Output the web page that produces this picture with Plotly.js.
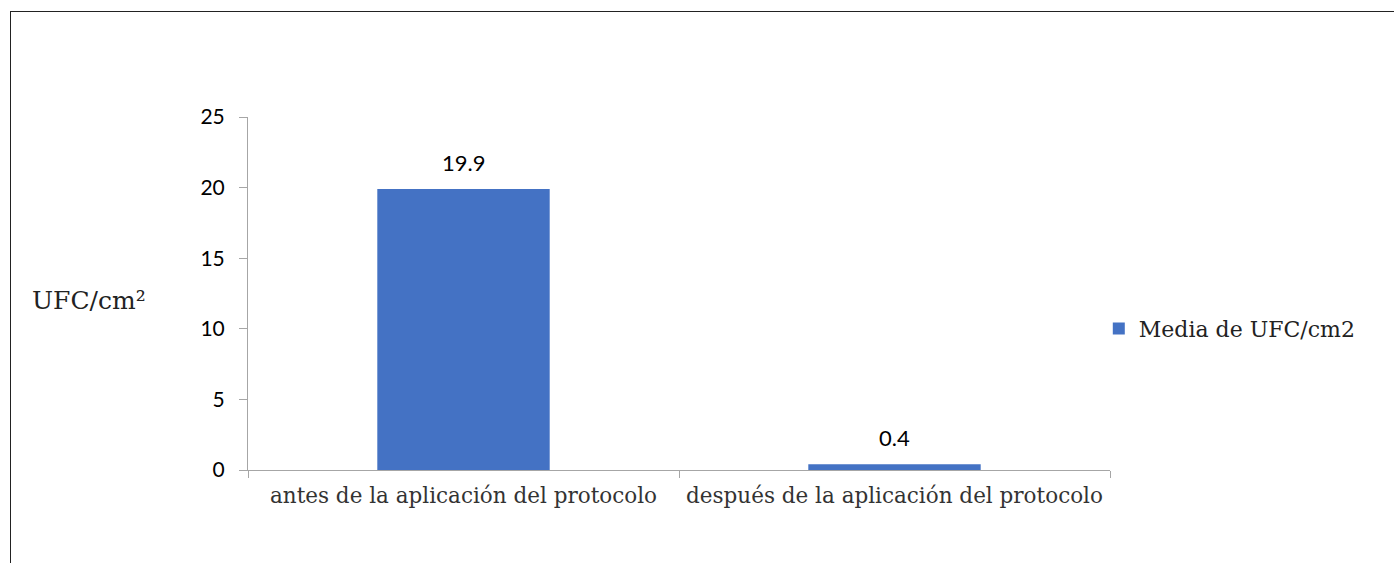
<!DOCTYPE html>
<html><head><meta charset="utf-8">
<script src="https://cdn.plot.ly/plotly-3.0.1.min.js"></script>
<style>
html,body{margin:0;padding:0;background:#fff;}
#chart{width:1394px;height:563px;}
#frame{position:absolute;left:10px;top:11px;width:1400px;height:600px;border-left:1.5px solid #222;border-top:1.5px solid #222;pointer-events:none;}
</style></head>
<body>
<div id="chart"></div>
<div id="frame"></div>
<script>
const categories = ["antes de la aplicación del protocolo", "después de la aplicación del protocolo"];
const values = [19.9, 0.4];
const valueLabels = ["19.9", "0.4"];
const seriesName = "Media de UFC/cm2";
const yTicks = [0, 5, 10, 15, 20, 25];

const serif = 'DejaVu Serif';
const sans = 'Lato';

const trace = {
  type: 'bar', x: categories, y: values, name: seriesName,
  marker: {color: '#4472C4'}, showlegend: true
};
const labelAnns = categories.map((c, i) => ({
  x: c, y: values[i], xref: 'x', yref: 'y', text: valueLabels[i], showarrow: false,
  yanchor: 'bottom', yshift: 11, font: {family: sans, size: 22, color: '#000'}
}));
const layout = {
  width: 1394, height: 563,
  margin: {l: 248, r: 284, t: 117, b: 93},
  paper_bgcolor: '#fff', plot_bgcolor: '#fff',
  bargap: 0.6,
  showlegend: true,
  legend: {x: 0.987, xanchor: 'left', y: 0.4, yanchor: 'middle', font: {family: serif, size: 22, color: '#222'}},
  xaxis: {type: 'category', showline: true, linecolor: '#a6a6a6', linewidth: 1, ticks: 'outside', tickson: 'boundaries', ticklen: 7, tickcolor: '#a6a6a6',
    tickfont: {family: serif, size: 21.5, color: '#333'}, showgrid: false, zeroline: false, ticklabelstandoff: 6},
  yaxis: {range: [0, 25], tickvals: yTicks, showline: true, linecolor: '#a6a6a6', linewidth: 1, ticks: 'outside', ticklen: 8, tickcolor: '#a6a6a6',
    tickfont: {family: sans, size: 21, color: '#000'}, showgrid: false, zeroline: false, ticklabelstandoff: 10},
  annotations: [{text: 'UFC/cm²', xref: 'paper', yref: 'paper', x: -0.253, y: 0.48, xanchor: 'left', yanchor: 'middle', showarrow: false,
    font: {family: serif, size: 25, color: '#222'}}].concat(labelAnns)
};
Plotly.newPlot('chart', [trace], layout, {displayModeBar: false, staticPlot: true});
</script>
</body></html>
